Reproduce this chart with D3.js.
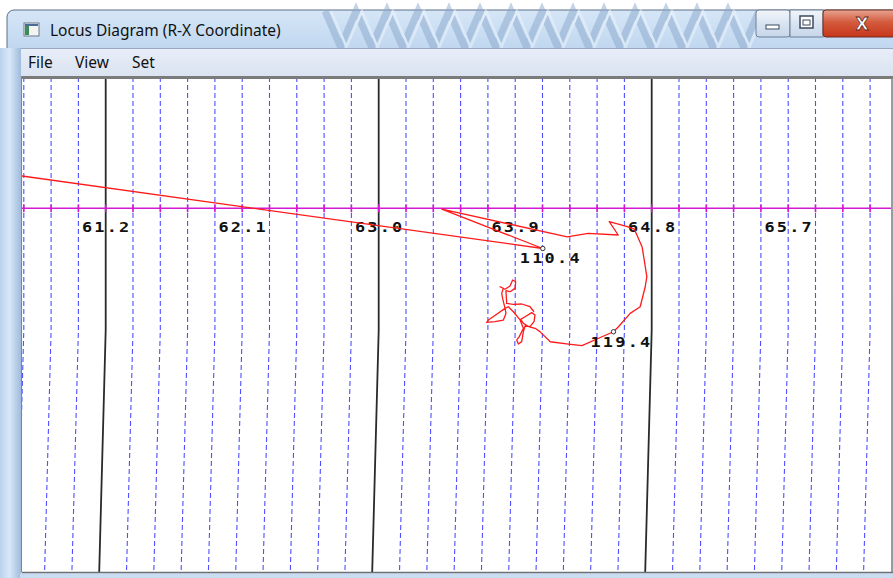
<!DOCTYPE html>
<html>
<head>
<meta charset="utf-8">
<script src="https://cdn.jsdelivr.net/npm/d3@7"></script>
<style>
  html, body { margin: 0; padding: 0; background: #ffffff; overflow: hidden; }
  svg { display: block; }
</style>
</head>
<body>
<div id="chart"></div>
<script>
// ---------------- data ----------------
const windowTitle = "Locus Diagram (R-X Coordinate)";
const menuItems = ["File", "View", "Set"];

// R axis labels (every 5 minor divisions)
const rLabelValues = [61.2, 62.1, 63.0, 63.9, 64.8, 65.7];
const rLabelTexts = ["61.2", "62.1", "63.0", "63.9", "64.8", "65.7"];
// major (solid) grid lines
const rMajorValues = [61.2, 63.0, 64.8];
// minor (dashed) grid step
const rMinorStep = 0.18;
const rMinorFirst = 60.66;
const rMinorLast = 66.24;

// locus trace (R, X)
const locusR = [60.648, 64.082, 63.416, 64.243, 64.381, 64.579, 64.520, 64.639, 64.685, 64.737,
                64.768, 64.757, 64.724, 64.658, 64.581, 64.548, 64.472, 64.340, 64.251, 64.131,
                64.063, 64.031, 63.987, 63.954, 63.936, 63.965, 64.009, 64.031, 64.024, 63.998,
                63.965, 63.954, 63.943, 63.921, 63.910, 63.927, 63.954, 63.932, 63.888, 63.855,
                63.833, 63.778, 63.723, 63.712, 63.767, 63.822, 63.839, 63.833, 63.817, 63.811,
                63.822, 63.800, 63.833, 63.866, 63.883, 63.903, 63.899, 63.866, 63.839, 63.844,
                63.888, 63.943, 63.998, 64.024];
const locusX = [0.213, -0.265, -0.005, -0.189, -0.165, -0.176, -0.088, -0.121, -0.137, -0.255,
                -0.451, -0.519, -0.649, -0.693, -0.781, -0.814, -0.847, -0.906, -0.895, -0.880,
                -0.813, -0.791, -0.780, -0.758, -0.732, -0.715, -0.688, -0.703, -0.747, -0.780,
                -0.776, -0.813, -0.879, -0.895, -0.868, -0.846, -0.791, -0.736, -0.682, -0.649,
                -0.660, -0.699, -0.737, -0.752, -0.747, -0.737, -0.693, -0.660, -0.594, -0.561,
                -0.528, -0.517, -0.534, -0.512, -0.473, -0.484, -0.528, -0.550, -0.543, -0.627,
                -0.633, -0.631, -0.649, -0.682];

// time markers
const markerLabels = ["110.4", "119.4"];
const markerR = [64.082, 64.548];
const markerX = [-0.265, -0.814];

// ---------------- layout ----------------
const W = 893, H = 578;
const plot = { left: 22, top: 79, right: 891, bottom: 572 };

const svg = d3.select("#chart").append("svg")
  .attr("width", W).attr("height", H)
  .attr("viewBox", `0 0 ${W} ${H}`);

const defs = svg.append("defs");
const frameGrad = defs.append("linearGradient").attr("id", "frameGrad")
  .attr("x1", 0).attr("y1", 0).attr("x2", 0).attr("y2", 1);
frameGrad.append("stop").attr("offset", "0%").attr("stop-color", "#d6e6f7");
frameGrad.append("stop").attr("offset", "8%").attr("stop-color", "#bcd4ee");
frameGrad.append("stop").attr("offset", "100%").attr("stop-color", "#b4cde9");

const sideGrad = defs.append("linearGradient").attr("id", "sideGrad")
  .attr("x1", 0).attr("y1", 0).attr("x2", 1).attr("y2", 0);
sideGrad.append("stop").attr("offset", "0%").attr("stop-color", "#b9d2ee");
sideGrad.append("stop").attr("offset", "45%").attr("stop-color", "#d8e8f8");
sideGrad.append("stop").attr("offset", "100%").attr("stop-color", "#9fbbdc");

const menuGrad = defs.append("linearGradient").attr("id", "menuGrad")
  .attr("x1", 0).attr("y1", 0).attr("x2", 0).attr("y2", 1);
menuGrad.append("stop").attr("offset", "0%").attr("stop-color", "#e9eef8");
menuGrad.append("stop").attr("offset", "100%").attr("stop-color", "#dbe3f1");

const closeGrad = defs.append("linearGradient").attr("id", "closeGrad")
  .attr("x1", 0).attr("y1", 0).attr("x2", 0).attr("y2", 1);
closeGrad.append("stop").attr("offset", "0%").attr("stop-color", "#e8a493");
closeGrad.append("stop").attr("offset", "45%").attr("stop-color", "#d45a3c");
closeGrad.append("stop").attr("offset", "100%").attr("stop-color", "#c7361b");

const btnGrad = defs.append("linearGradient").attr("id", "btnGrad")
  .attr("x1", 0).attr("y1", 0).attr("x2", 0).attr("y2", 1);
btnGrad.append("stop").attr("offset", "0%").attr("stop-color", "#f2f6fb");
btnGrad.append("stop").attr("offset", "50%").attr("stop-color", "#d9e4f1");
btnGrad.append("stop").attr("offset", "100%").attr("stop-color", "#c6d6ea");

// ---------------- window chrome ----------------
svg.append("rect").attr("x", 0).attr("y", 0).attr("width", W).attr("height", H).attr("fill", "#ffffff");
svg.append("rect").attr("x", 7).attr("y", 10).attr("width", W + 10).attr("height", H)
  .attr("rx", 7).attr("fill", "url(#frameGrad)").attr("stroke", "#5f6f86").attr("stroke-width", 1);

// glass stripes in title bar
const stripes = svg.append("g").attr("opacity", 0.5);
const zig = [];
for (let i = 0; i <= 28; i++) {
  zig.push([325 + i * 15.5, i % 2 === 0 ? 11 : 47]);
}
stripes.append("path").attr("d", d3.line()(zig))
  .attr("fill", "none").attr("stroke", "#8aa8cc").attr("stroke-width", 7);
stripes.append("path").attr("d", d3.line()(zig.map(p => [p[0] + 6, p[1]])))
  .attr("fill", "none").attr("stroke", "#eef5fc").attr("stroke-width", 2.5);

// left side frame
svg.append("rect").attr("x", 0).attr("y", 48).attr("width", 21).attr("height", H - 48)
  .attr("fill", "url(#sideGrad)");

// icon
svg.append("rect").attr("x", 24).attr("y", 23).attr("width", 15).attr("height", 13)
  .attr("fill", "#f4f4f4").attr("stroke", "#6d7b8c").attr("stroke-width", 1);
svg.append("rect").attr("x", 25).attr("y", 24).attr("width", 4).attr("height", 11).attr("fill", "#3c8c5a");
svg.append("rect").attr("x", 25).attr("y", 24).attr("width", 13).attr("height", 2).attr("fill", "#4a6b95");

// title text
svg.append("text").attr("x", 50).attr("y", 36)
  .attr("font-family", "'Noto Sans', 'Open Sans', sans-serif").attr("font-size", 15.5)
  .attr("fill", "#111").text(windowTitle);

// caption buttons
svg.append("rect").attr("x", 756).attr("y", 10).attr("width", 34).attr("height", 27)
  .attr("rx", 3).attr("fill", "url(#btnGrad)").attr("stroke", "#6f7f95");
svg.append("rect").attr("x", 766).attr("y", 25).attr("width", 13).attr("height", 4)
  .attr("fill", "#fff").attr("stroke", "#3d4a5c").attr("stroke-width", 1);
svg.append("rect").attr("x", 790).attr("y", 10).attr("width", 33).attr("height", 27)
  .attr("fill", "url(#btnGrad)").attr("stroke", "#6f7f95");
svg.append("rect").attr("x", 800).attr("y", 16).attr("width", 13).attr("height", 12)
  .attr("fill", "#fff").attr("stroke", "#3d4a5c").attr("stroke-width", 1.5);
svg.append("rect").attr("x", 803).attr("y", 20).attr("width", 7).attr("height", 5)
  .attr("fill", "none").attr("stroke", "#3d4a5c").attr("stroke-width", 1);
svg.append("rect").attr("x", 823).attr("y", 10).attr("width", 80).attr("height", 27)
  .attr("rx", 3).attr("fill", "url(#closeGrad)").attr("stroke", "#6c2b1e");
svg.append("text").attr("x", 862).attr("y", 30).attr("text-anchor", "middle")
  .attr("font-family", "'DejaVu Sans', sans-serif").attr("font-weight", "bold")
  .attr("font-size", 17).attr("fill", "#fff").attr("stroke", "#5a2a22").attr("stroke-width", 0.8)
  .text("X");

// menu bar
svg.append("rect").attr("x", 21).attr("y", 48).attr("width", W - 21).attr("height", 28)
  .attr("fill", "url(#menuGrad)");
svg.append("line").attr("x1", 21).attr("x2", W).attr("y1", 48.5).attr("y2", 48.5).attr("stroke", "#9aa9bf");
const menuX = [28, 75, 132];
svg.selectAll("text.menu").data(menuItems).enter().append("text")
  .attr("class", "menu")
  .attr("x", (d, i) => menuX[i]).attr("y", 68)
  .attr("font-family", "'Noto Sans', 'Open Sans', sans-serif").attr("font-size", 15.5)
  .attr("fill", "#111").text(d => d);

// ---------------- plot ----------------
svg.append("rect").attr("x", plot.left).attr("y", plot.top)
  .attr("width", plot.right - plot.left).attr("height", plot.bottom - plot.top).attr("fill", "#ffffff");

const clip = defs.append("clipPath").attr("id", "plotClip");
clip.append("rect").attr("x", plot.left).attr("y", plot.top)
  .attr("width", plot.right - plot.left).attr("height", plot.bottom - plot.top);

const pxPerUnit = (788.2 - 105.7) / (65.7 - 61.2);
const xScale = d3.scaleLinear().domain([61.2, 65.7]).range([105.7, 788.2]);
const yScale = d3.scaleLinear().domain([0, -1]).range([208.3, 208.3 + pxPerUnit]);

const g = svg.append("g").attr("clip-path", "url(#plotClip)");

// slight bend of the vertical grid lines (as in the capture)
const bend = d3.scaleLinear().domain([plot.top, 330, plot.bottom]).range([0, 0, -6.5]).clamp(true);
const gridLine = d3.line();
function vline(v) {
  const x = xScale(v);
  return gridLine([[x + bend(plot.top), plot.top], [x + bend(330), 330], [x + bend(plot.bottom), plot.bottom]]);
}

const minorVals = d3.range(Math.round((rMinorLast - rMinorFirst) / rMinorStep) + 1)
  .map(i => +(rMinorFirst + i * rMinorStep).toFixed(3));
const isMajor = v => rMajorValues.some(m => Math.abs(m - v) < 1e-6);

g.selectAll("path.minor").data(minorVals.filter(v => !isMajor(v))).enter().append("path")
  .attr("class", "minor").attr("d", vline)
  .attr("fill", "none").attr("stroke", "#4f4fff").attr("stroke-width", 1.1)
  .attr("stroke-dasharray", "5,3").attr("stroke-dashoffset", 2);

g.selectAll("path.major").data(rMajorValues).enter().append("path")
  .attr("class", "major").attr("d", vline)
  .attr("fill", "none").attr("stroke", "#2a2a2a").attr("stroke-width", 1.8);

// X = 0 axis (magenta) with ticks at each grid line
g.append("line").attr("x1", plot.left).attr("x2", plot.right)
  .attr("y1", yScale(0)).attr("y2", yScale(0))
  .attr("stroke", "#d11bd1").attr("stroke-width", 1.6);
g.selectAll("line.tick").data(minorVals).enter().append("line")
  .attr("class", "tick")
  .attr("x1", d => xScale(d)).attr("x2", d => xScale(d))
  .attr("y1", yScale(0) - 4).attr("y2", yScale(0) + 4)
  .attr("stroke", "#d11bd1").attr("stroke-width", 1.6);

// R labels
g.selectAll("text.rlab").data(rLabelValues).enter().append("text")
  .attr("class", "rlab")
  .attr("transform", d => `translate(${xScale(d) + 1},${yScale(0) + 24}) scale(1.25,1)`)
  .attr("text-anchor", "middle")
  .attr("font-family", "'DejaVu Sans Mono', monospace").attr("font-weight", "bold")
  .attr("font-size", 13.5).attr("letter-spacing", 1.8)
  .attr("fill", "#111")
  .text((d, i) => rLabelTexts[i]);

// locus
const locus = locusR.map((r, i) => [r, locusX[i]]);
g.append("path")
  .attr("d", d3.line().x(d => xScale(d[0])).y(d => yScale(d[1]))(locus))
  .attr("fill", "none").attr("stroke", "#ff1a1a").attr("stroke-width", 1.3)
  .attr("stroke-linejoin", "round");

// markers
const markers = markerLabels.map((t, i) => ({ t, r: markerR[i], x: markerX[i] }));
g.selectAll("circle.mk").data(markers).enter().append("circle")
  .attr("class", "mk")
  .attr("cx", d => xScale(d.r)).attr("cy", d => yScale(d.x)).attr("r", 2.2)
  .attr("fill", "#fff").attr("stroke", "#333").attr("stroke-width", 1);
g.selectAll("text.mk").data(markers).enter().append("text")
  .attr("class", "mk")
  .attr("transform", d => `translate(${xScale(d.r) + 8},${yScale(d.x) + 15}) scale(1.25,1)`)
  .attr("text-anchor", "middle")
  .attr("font-family", "'DejaVu Sans Mono', monospace").attr("font-weight", "bold")
  .attr("font-size", 13.5).attr("letter-spacing", 1.8)
  .attr("fill", "#111").text(d => d.t);

// plot borders
svg.append("line").attr("x1", plot.left).attr("x2", W).attr("y1", 77.5).attr("y2", 77.5)
  .attr("stroke", "#7b7b7b").attr("stroke-width", 3);
svg.append("line").attr("x1", plot.left - 0.5).attr("x2", plot.left - 0.5).attr("y1", 76).attr("y2", plot.bottom)
  .attr("stroke", "#7b8594").attr("stroke-width", 1);
svg.append("line").attr("x1", plot.left).attr("x2", W).attr("y1", plot.bottom + 0.5).attr("y2", plot.bottom + 0.5)
  .attr("stroke", "#6f6f6f").attr("stroke-width", 1.5);
svg.append("rect").attr("x", plot.left - 2).attr("y", plot.bottom + 1.5).attr("width", W).attr("height", H - plot.bottom)
  .attr("fill", "#c9dcf0");
svg.append("line").attr("x1", plot.right + 1).attr("x2", plot.right + 1).attr("y1", 78).attr("y2", plot.bottom)
  .attr("stroke", "#8a8a8a").attr("stroke-width", 1.5);
</script>
</body>
</html>
